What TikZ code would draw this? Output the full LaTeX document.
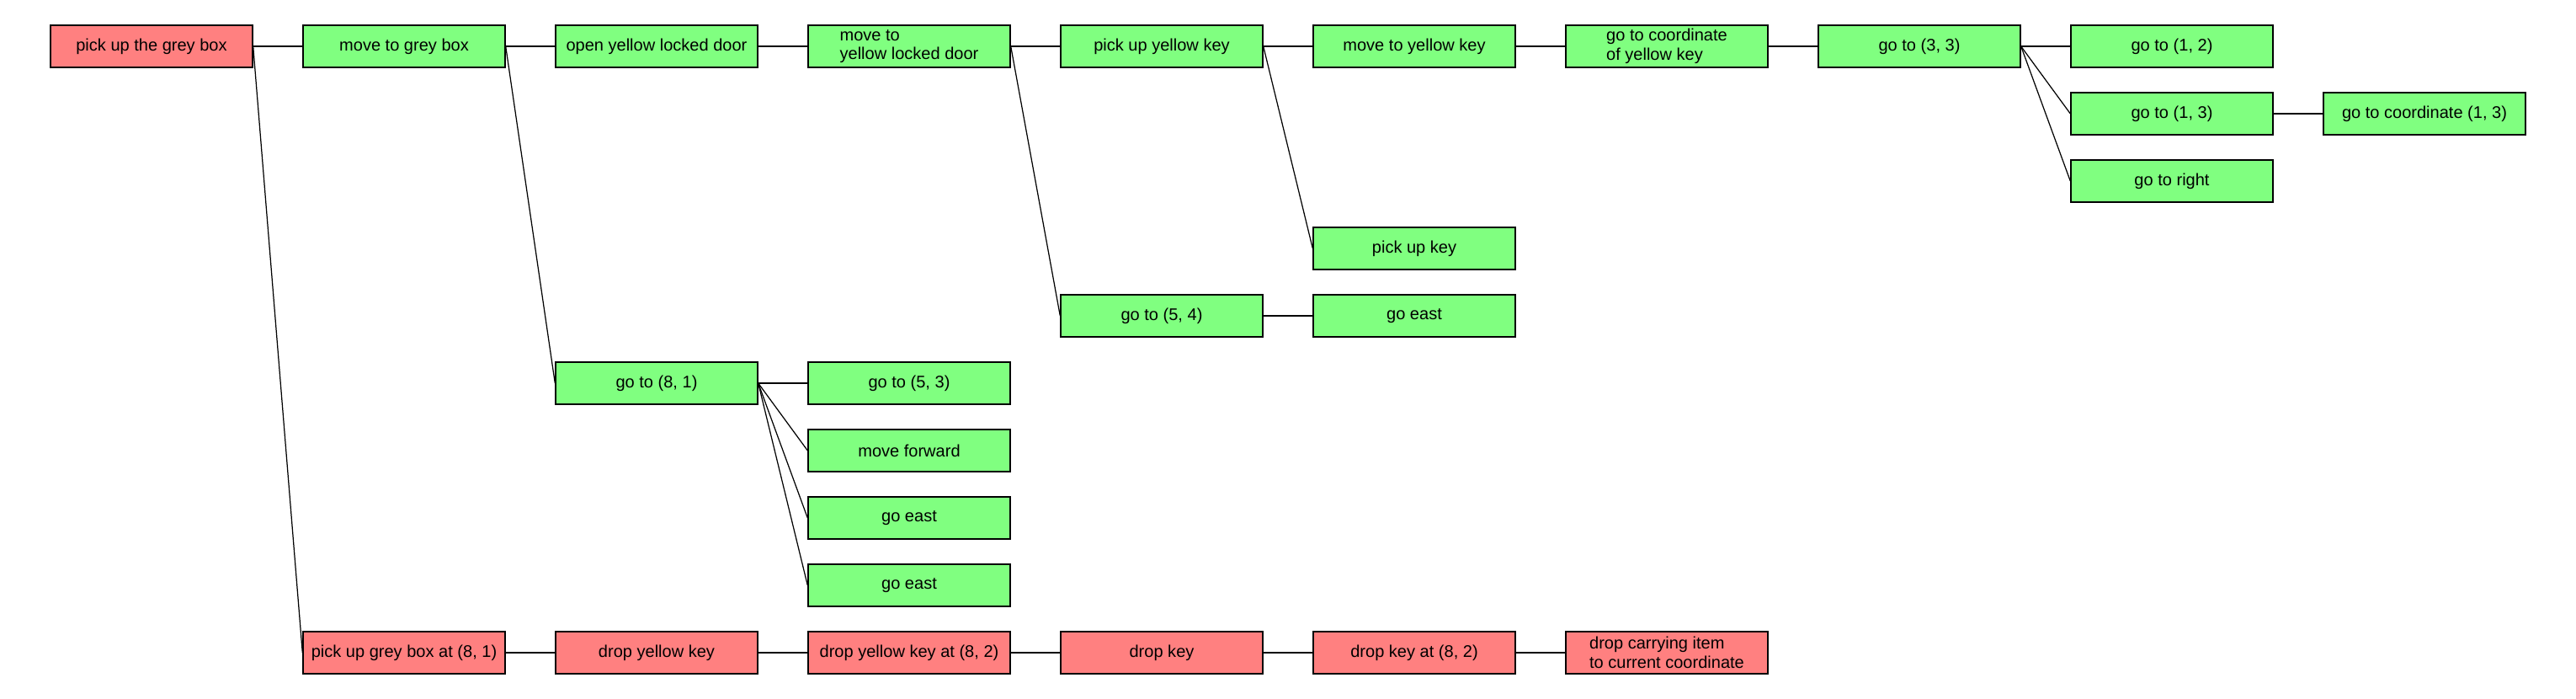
\documentclass[tikz,border=0pt]{standalone}
\usepackage{fontspec}
\setmainfont{Liberation Sans}
\usepackage{tikz}
\usetikzlibrary{calc}
\definecolor{taskgreen}{HTML}{80FF80}
\definecolor{taskred}{HTML}{FF8080}
\tikzset{
  task/.style={shape=rectangle, draw=black, line width=0.8pt,
    minimum width=4.8cm, minimum height=1cm, inner sep=2pt, align=left,
    font=\fontsize{11.4pt}{12.8pt}\selectfont},
  done/.style={task, fill=taskgreen},
  fail/.style={task, fill=taskred},
  link/.style={draw=black, line width=0.7pt}
}
% column and row of the grid give the place of a box
\def\task#1#2#3#4#5{
  \node [#4] (#1) at ($(#2*6+3.6, -#3*1.6-1.1)$) {#5};
}

\begin{document}
\begin{tikzpicture}
\useasboundingbox (0,0) rectangle (61.2,-16.6);

% Upper chain
\task{pickgreybox}{0}{0}{fail}{pick up the grey box}
\task{movegreybox}{1}{0}{done}{move to grey box}
\task{openyellowdoor}{2}{0}{done}{open yellow locked door}
\task{movedoor}{3}{0}{done}{move to\\yellow locked door}
\task{pickyellowkey}{4}{0}{done}{pick up yellow key}
\task{moveyellowkey}{5}{0}{done}{move to yellow key}
\task{coordkey}{6}{0}{done}{go to coordinate\\of yellow key}
\task{goto33}{7}{0}{done}{go to (3, 3)}
\task{goto12}{8}{0}{done}{go to (1, 2)}
\task{goto13}{8}{1}{done}{go to (1, 3)}
\task{coord13}{9}{1}{done}{go to coordinate (1, 3)}
\task{goright}{8}{2}{done}{go to right}
\task{pickupkey}{5}{3}{done}{pick up key}
\task{goto54}{4}{4}{done}{go to (5, 4)}
\task{goeastA}{5}{4}{done}{go east}
\task{goto81}{2}{5}{done}{go to (8, 1)}
\task{goto53}{3}{5}{done}{go to (5, 3)}
\task{moveforward}{3}{6}{done}{move forward}
\task{goeastB}{3}{7}{done}{go east}
\task{goeastC}{3}{8}{done}{go east}

% Lower chain
\task{pickboxat}{1}{9}{fail}{pick up grey box at (8, 1)}
\task{dropyellowkey}{2}{9}{fail}{drop yellow key}
\task{dropyellowat}{3}{9}{fail}{drop yellow key at (8, 2)}
\task{dropkey}{4}{9}{fail}{drop key}
\task{dropkeyat}{5}{9}{fail}{drop key at (8, 2)}
\task{dropcarry}{6}{9}{fail}{drop carrying item\\to current coordinate}

% Links from parent to child
\foreach \a/\b in {pickgreybox/movegreybox, pickgreybox/pickboxat,
    movegreybox/openyellowdoor, movegreybox/goto81,
    openyellowdoor/movedoor,
    movedoor/pickyellowkey, movedoor/goto54,
    pickyellowkey/moveyellowkey, pickyellowkey/pickupkey,
    moveyellowkey/coordkey, coordkey/goto33,
    goto33/goto12, goto33/goto13, goto33/goright,
    goto13/coord13, goto54/goeastA,
    goto81/goto53, goto81/moveforward, goto81/goeastB, goto81/goeastC,
    pickboxat/dropyellowkey, dropyellowkey/dropyellowat,
    dropyellowat/dropkey, dropkey/dropkeyat, dropkeyat/dropcarry}
  \draw [link] (\a.east) -- (\b.west);
\end{tikzpicture}
\end{document}
